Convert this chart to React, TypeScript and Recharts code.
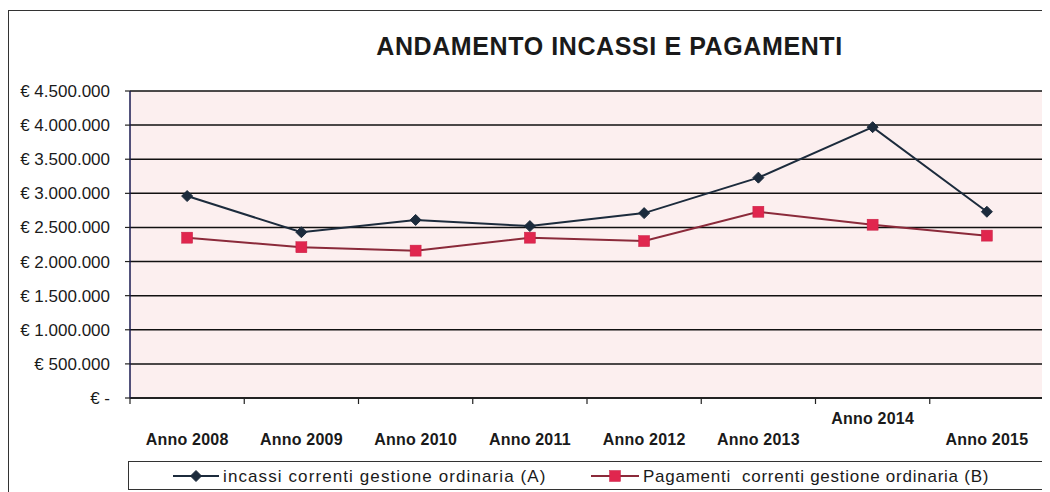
import React from "react";
import { LineChart, Line, XAxis, YAxis, CartesianGrid } from "recharts";

const categories = ["Anno 2008", "Anno 2009", "Anno 2010", "Anno 2011", "Anno 2012", "Anno 2013", "Anno 2014", "Anno 2015"];
const incassi = [2960000, 2430000, 2610000, 2520000, 2710000, 3230000, 3970000, 2730000];
const pagamenti = [2350000, 2210000, 2160000, 2350000, 2300000, 2730000, 2540000, 2380000];
const yTicks = [0, 500000, 1000000, 1500000, 2000000, 2500000, 3000000, 3500000, 4000000, 4500000];
const raisedLabels = ["Anno 2014"];
const title = "ANDAMENTO INCASSI E PAGAMENTI";
const seriesNames = ["incassi correnti gestione ordinaria (A)", "Pagamenti  correnti gestione ordinaria (B)"];

const data = categories.map((c, i) => ({ cat: c, a: incassi[i], b: pagamenti[i] }));

const FONT = "'Liberation Sans', Arial, sans-serif";
const LINE_A = "#1c2b3c";
const LINE_B = "#8b2a3a";
const MARK_B = "#e0264e";

const fmt = (v: number) => {
  if (v === 0) return "€ -";
  const s = String(Math.round(v));
  return "€ " + s.replace(/\B(?=(\d{3})+(?!\d))/g, ".");
};

const Diamond = (props: any) => {
  const { cx, cy } = props;
  if (cx == null || cy == null) return null;
  const r = 5.5;
  return <path d={`M${cx},${cy - r}L${cx + r},${cy}L${cx},${cy + r}L${cx - r},${cy}Z`} fill={LINE_A} stroke={LINE_A} strokeWidth={1} />;
};

const Square = (props: any) => {
  const { cx, cy } = props;
  if (cx == null || cy == null) return null;
  const r = 5.5;
  return <rect x={cx - r} y={cy - r} width={2 * r} height={2 * r} fill={MARK_B} stroke="#c81e44" strokeWidth={0.5} />;
};

const XTick = (props: any) => {
  const { x, y, payload, index } = props;
  const off = payload && payload.offset ? payload.offset : 0;
  const raised = raisedLabels.includes(payload.value);
  const last = index === categories.length - 1;
  return (
    <g>
      <line x1={x - off} x2={x - off} y1={y} y2={y + 6} stroke="#222" strokeWidth={1.2} />
      {last && <line x1={x + off} x2={x + off} y1={y} y2={y + 6} stroke="#222" strokeWidth={1.2} />}
      <text x={x} y={y + (raised ? 26 : 47)} textAnchor="middle" fontFamily={FONT} fontSize={16} fontWeight="bold" fill="#1a1a1a" letterSpacing={0.2}>
        {payload.value}
      </text>
    </g>
  );
};

export default function App() {
  return (
    <div style={{ position: "relative", width: 1042, height: 484, fontFamily: FONT }}>
      <div style={{ position: "absolute", left: 0, top: 2, width: 1050, height: 490, border: "1.5px solid #333", boxSizing: "border-box" }} />
      <div style={{ position: "absolute", left: 0, top: 0, width: 1042, textAlign: "center", paddingLeft: 161, boxSizing: "border-box" }}>
        <div style={{ marginTop: 24, fontSize: 25, fontWeight: "bold", color: "#1a1a1a", letterSpacing: 0.6 }}>{title}</div>
      </div>
      <div style={{ position: "absolute", left: 0, top: 0 }}>
        <LineChart width={1042} height={484} data={data} margin={{ top: 83, right: 5, left: 0, bottom: 34 }}>
          <CartesianGrid vertical={false} stroke="#111" strokeWidth={1.5} fill="#fcefef" fillOpacity={1} />
          <XAxis dataKey="cat" scale="band" height={60} tickLine={false} tickSize={0} tickMargin={0} interval={0} axisLine={{ stroke: "#222", strokeWidth: 2 }} tick={<XTick />} />
          <YAxis
            width={122}
            domain={[0, 4500000]}
            ticks={yTicks}
            interval={0}
            tickFormatter={fmt}
            tickSize={5}
            tickMargin={15}
            axisLine={{ stroke: "#1a1a50", strokeWidth: 1.5 }}
            tickLine={{ stroke: "#222", strokeWidth: 1.2 }}
            tick={{ fontFamily: FONT, fontSize: 17, fill: "#1a1a1a" }}
          />
          <YAxis yAxisId="r" orientation="right" width={1} tick={false} tickLine={false} axisLine={{ stroke: "#333", strokeWidth: 1.5 }} />
          <Line type="linear" dataKey="a" name={seriesNames[0]} stroke={LINE_A} strokeWidth={2} dot={<Diamond />} activeDot={false} isAnimationActive={false} />
          <Line type="linear" dataKey="b" name={seriesNames[1]} stroke={LINE_B} strokeWidth={2} dot={<Square />} activeDot={false} isAnimationActive={false} />
        </LineChart>
      </div>
      <div style={{ position: "absolute", left: 120, top: 453, width: 917, height: 29, border: "1.5px solid #333", boxSizing: "border-box", background: "#fff" }}>
        <svg width={914} height={26} style={{ position: "absolute", left: 0, top: 0 }}>
          <line x1={44} x2={90} y1={14} y2={14} stroke={LINE_A} strokeWidth={2} />
          <Diamond cx={67} cy={14} />
          <text x={94} y={20} fontFamily={FONT} fontSize={17} fill="#1a1a1a" letterSpacing={1.1}>{seriesNames[0]}</text>
          <line x1={462} x2={510} y1={14} y2={14} stroke={LINE_B} strokeWidth={2} />
          <Square cx={486} cy={14} />
          <text x={514} y={20} fontFamily={FONT} fontSize={17} fill="#1a1a1a" letterSpacing={0.75} style={{ whiteSpace: "pre" }}>{seriesNames[1]}</text>
        </svg>
      </div>
    </div>
  );
}
